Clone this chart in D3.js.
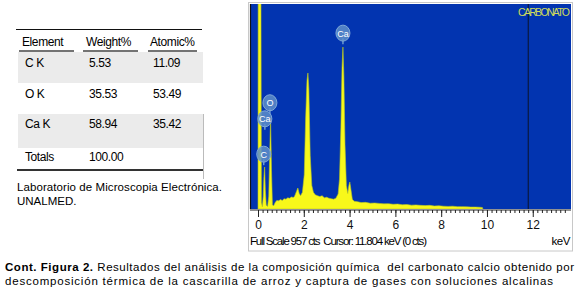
<!DOCTYPE html>
<meta charset="UTF-8">
<html>
<head>
	<title>EDS carbonato</title>
	<script src="https://d3js.org/d3.v7.min.js"></script>
	<style>
		body { margin: 0; background: #fff; }
		text { font-family: "Liberation Sans", Arial, sans-serif; }
	</style>
</head>
<body>
	<svg id="fig" width="580" height="290"></svg>

	<script>
		// table values
		var elements = ["C K", "O K", "Ca K", "Totals"];
		var weights = ["5.53", "35.53", "58.94", "100.00"];
		var atomics = ["11.09", "53.49", "35.42", ""];
		var headers = ["Element", "Weight%", "Atomic%"];

		// spectrum: energy (keV) and counts
		var energy = [0.00, 0.01, 0.12, 0.15, 0.19, 0.23, 0.26, 0.29, 0.32, 0.36, 0.42, 0.47, 0.51, 0.55, 0.59, 0.63, 0.68,
			0.75, 0.82, 0.90, 0.98, 1.06, 1.14, 1.22, 1.30, 1.38, 1.46, 1.54, 1.60, 1.68, 1.74, 1.80, 1.86, 1.94,
			2.02, 2.08, 2.14, 2.18, 2.22, 2.28, 2.35, 2.42, 2.50, 2.60, 2.70, 2.80, 2.90, 3.00, 3.10, 3.20, 3.30, 3.40,
			3.50, 3.56, 3.62, 3.67, 3.71, 3.75, 3.80, 3.86, 3.92, 3.97, 4.01, 4.06, 4.12, 4.20, 4.35, 4.50, 4.70,
			4.90, 5.10, 5.30, 5.50, 5.70, 5.90, 6.10, 6.30, 6.50, 6.70, 6.90, 7.10, 7.30, 7.50, 7.70, 7.90, 8.10,
			8.30, 8.50, 8.70, 8.90, 9.10, 9.30, 9.50, 9.70, 9.80, 9.82];
		var counts = [0, 1400, 1400, 30, 10, 60, 150, 196, 90, 18, 12, 60, 250, 425, 180, 20, 14,
			30, 40, 38, 44, 40, 48, 46, 52, 50, 56, 54, 60, 82, 98, 72, 62, 78,
			160, 420, 600, 635, 560, 250, 110, 78, 66, 62, 58, 62, 52, 55, 50, 48, 46, 50,
			70, 140, 380, 660, 756, 620, 300, 110, 72, 110, 126, 90, 45, 36, 34, 30, 31,
			27, 28, 26, 24, 25, 22, 23, 20, 21, 18, 19, 17, 16, 17, 14, 15, 13,
			12, 13, 11, 11, 10, 9, 9, 8, 7, 0];

		// element markers on the spectrum
		var markLabels = ["Ca", "O", "Ca", "C"];
		var markEnergy = [3.71, 0.52, 0.30, 0.25];
		var markCounts = [765, 440, 365, 200];

		var xTicks = [0, 2, 4, 6, 8, 10, 12];
		var fullScale = 957;
		var cursor = 11.804;

		var svg = d3.select("#fig");

		// ---- table on the left ----
		var colX = [22, 86, 150];
		var rowTop = [52, 83, 114, 148];
		var rowBottom = [83, 114, 148, 170];

		svg.selectAll("rect.row")
			.data(elements)
			.enter()
			.append("rect")
				.attr("class", "row")
				.attr("x", 18)
				.attr("y", function(d, i){ return rowTop[i]; })
				.attr("width", 185)
				.attr("height", function(d, i){ return rowBottom[i] - rowTop[i]; })
				.style("fill", function(d, i){ return i % 2 == 0 && i < 3 ? "#ebebeb" : "#fff"; });

		svg.append("line")
			.attr("x1", 16).attr("x2", 202).attr("y1", 29.5).attr("y2", 29.5)
			.style("stroke", "#111").style("stroke-width", 1);
		svg.append("line")
			.attr("x1", 17).attr("x2", 204).attr("y1", 170).attr("y2", 170)
			.style("stroke", "#333").style("stroke-width", 2);
		svg.append("line")
			.attr("x1", 203.5).attr("x2", 203.5).attr("y1", 114).attr("y2", 179)
			.style("stroke", "#bbb").style("stroke-width", 1);

		var underline = [[19, 74], [83, 138], [148, 197]];
		svg.selectAll("line.hd")
			.data(underline)
			.enter()
			.append("line")
				.attr("x1", function(d){ return d[0]; })
				.attr("x2", function(d){ return d[1]; })
				.attr("y1", 51).attr("y2", 51)
				.style("stroke", "#444").style("stroke-width", 1.5);

		svg.selectAll("text.hd")
			.data(headers)
			.enter()
			.append("text")
				.attr("x", function(d, i){ return colX[i]; })
				.attr("y", 46)
				.style("font-size", "12px")
				.style("letter-spacing", "-0.4px")
				.text(function(d){ return d; });

		var cells = [];
		elements.forEach(function(e, i){
			cells.push([e, weights[i], atomics[i]]);
		});
		var rowBase = [67, 98, 128, 161];
		svg.selectAll("g.tr")
			.data(cells)
			.enter()
			.append("g")
				.attr("transform", function(d, i){ return "translate(0," + rowBase[i] + ")"; })
			.selectAll("text")
				.data(function(d){ return d; })
				.enter()
				.append("text")
					.attr("x", function(d, j){ return colX[j] + 3; })
					.style("font-size", "12px")
					.style("letter-spacing", "-0.4px")
					.text(function(d){ return d; });

		svg.append("text")
			.attr("x", 17).attr("y", 191)
			.style("font-size", "11.5px")
			.attr("textLength", 205)
			.text("Laboratorio de Microscopia Electrónica.");
		svg.append("text")
			.attr("x", 17).attr("y", 205)
			.style("font-size", "11.5px")
			.text("UNALMED.");

		// ---- spectrum panel ----
		var pLeft = 250, pRight = 571, pTop = 4, pBottom = 209;
		var x = d3.scaleLinear()
			.domain([0, 13.67])
			.range([258, 571]);
		var y = d3.scaleLinear()
			.domain([0, fullScale])
			.range([pBottom, pTop]);

		// frame
		svg.append("rect")
			.attr("x", pLeft - 1.5).attr("y", pTop - 1.5)
			.attr("width", pRight - pLeft + 3).attr("height", 251 - pTop + 1.5)
			.style("fill", "#fff").style("stroke", "#c8c8c8").style("stroke-width", 1);

		svg.append("clipPath").attr("id", "plot")
			.append("rect")
				.attr("x", pLeft).attr("y", pTop)
				.attr("width", pRight - pLeft).attr("height", pBottom - pTop);

		svg.append("rect")
			.attr("x", pLeft).attr("y", pTop)
			.attr("width", pRight - pLeft).attr("height", pBottom - pTop)
			.style("fill", "#0234b0");

		var pts = energy.map(function(e, i){ return [e, counts[i]]; });
		var area = d3.area()
			.x(function(d){ return x(d[0]); })
			.y0(pBottom)
			.y1(function(d){ return y(d[1]); });

		svg.append("path")
			.datum(pts)
			.attr("clip-path", "url(#plot)")
			.attr("d", area)
			.style("fill", "#f8f81a")
			.style("stroke", "#b8c820")
			.style("stroke-width", 0.6);

		svg.append("line")
			.attr("x1", pLeft + 0.5).attr("x2", pLeft + 0.5)
			.attr("y1", pTop).attr("y2", pBottom)
			.style("stroke", "#111").style("stroke-width", 1.2);

		// cursor line
		svg.append("line")
			.attr("x1", x(cursor)).attr("x2", x(cursor))
			.attr("y1", pTop).attr("y2", pBottom)
			.style("stroke", "#0a1a40").style("stroke-width", 1.2);

		svg.append("text")
			.attr("x", 518).attr("y", 16)
			.attr("textLength", 52)
			.style("font-size", "10.5px")
			.style("fill", "#cfdc5a")
			.text("CARBONATO");

		// element markers
		var marks = svg.selectAll("g.mark")
			.data(markLabels)
			.enter()
			.append("g")
				.attr("transform", function(d, i){
					return "translate(" + x(markEnergy[i]) + "," + (y(markCounts[i]) - 12) + ")";
				});
		marks.append("line")
			.attr("x1", 0).attr("x2", 0).attr("y1", 5).attr("y2", 11)
			.style("stroke", "#6b9ad0").style("stroke-width", 1.5);
		marks.append("ellipse")
			.attr("rx", 7).attr("ry", 8)
			.style("fill", "#5e8fca")
			.style("fill-opacity", 0.85)
			.style("stroke", "#7fa8d8")
			.style("stroke-width", 1);
		marks.append("text")
			.attr("y", 3.5)
			.attr("text-anchor", "middle")
			.style("font-size", "9px")
			.style("fill", "#fff")
			.text(function(d){ return d; });

		// keV axis
		var axis = d3.axisBottom(x)
			.tickValues(d3.range(0, 68).map(function(i){ return i * 0.2; }))
			.tickSize(3)
			.tickFormat("");
		svg.append("g")
			.attr("transform", "translate(0," + (pBottom + 1) + ")")
			.call(axis)
			.call(function(g){ g.select(".domain").remove(); })
			.selectAll("line").style("stroke", "#222");

		svg.append("line")
			.attr("x1", pLeft).attr("x2", pRight)
			.attr("y1", pBottom + 1).attr("y2", pBottom + 1)
			.style("stroke", "#222").style("stroke-width", 1);

		var axisMajor = d3.axisBottom(x)
			.tickValues(xTicks)
			.tickSize(7)
			.tickFormat(d3.format("d"));
		var gm = svg.append("g")
			.attr("transform", "translate(0," + (pBottom + 1) + ")")
			.call(axisMajor)
			.call(function(g){ g.select(".domain").remove(); });
		gm.selectAll("line").style("stroke", "#222");
		gm.selectAll("text")
			.attr("y", 10)
			.style("font-family", "Liberation Sans, Arial, sans-serif")
			.style("font-size", "12px")
			.style("fill", "#111");

		svg.append("text")
			.attr("x", 250).attr("y", 245)
			.attr("xml:space", "preserve")
			.attr("textLength", 177)
			.style("font-size", "11.5px")
			.text("Full Scale " + fullScale + " cts  Cursor: " + cursor + " keV (0 cts)");
		svg.append("text")
			.attr("x", 570).attr("y", 245)
			.attr("text-anchor", "end")
			.style("font-size", "11.5px")
			.style("letter-spacing", "-0.4px")
			.text("keV");

		// ---- caption ----
		var cap = svg.append("text")
			.attr("x", 5).attr("y", 271)
			.attr("xml:space", "preserve")
			.attr("textLength", 569)
			.style("font-size", "11.5px");
		cap.append("tspan").style("font-weight", "bold").text("Cont. Figura 2.");
		cap.append("tspan").text(" Resultados del análisis de la composición química  del carbonato calcio obtenido por");
		svg.append("text")
			.attr("x", 5).attr("y", 285)
			.attr("textLength", 548)
			.style("font-size", "11.5px")
			.text("descomposición térmica de la cascarilla de arroz y captura de gases con soluciones alcalinas");
	</script>
</body>
</html>
